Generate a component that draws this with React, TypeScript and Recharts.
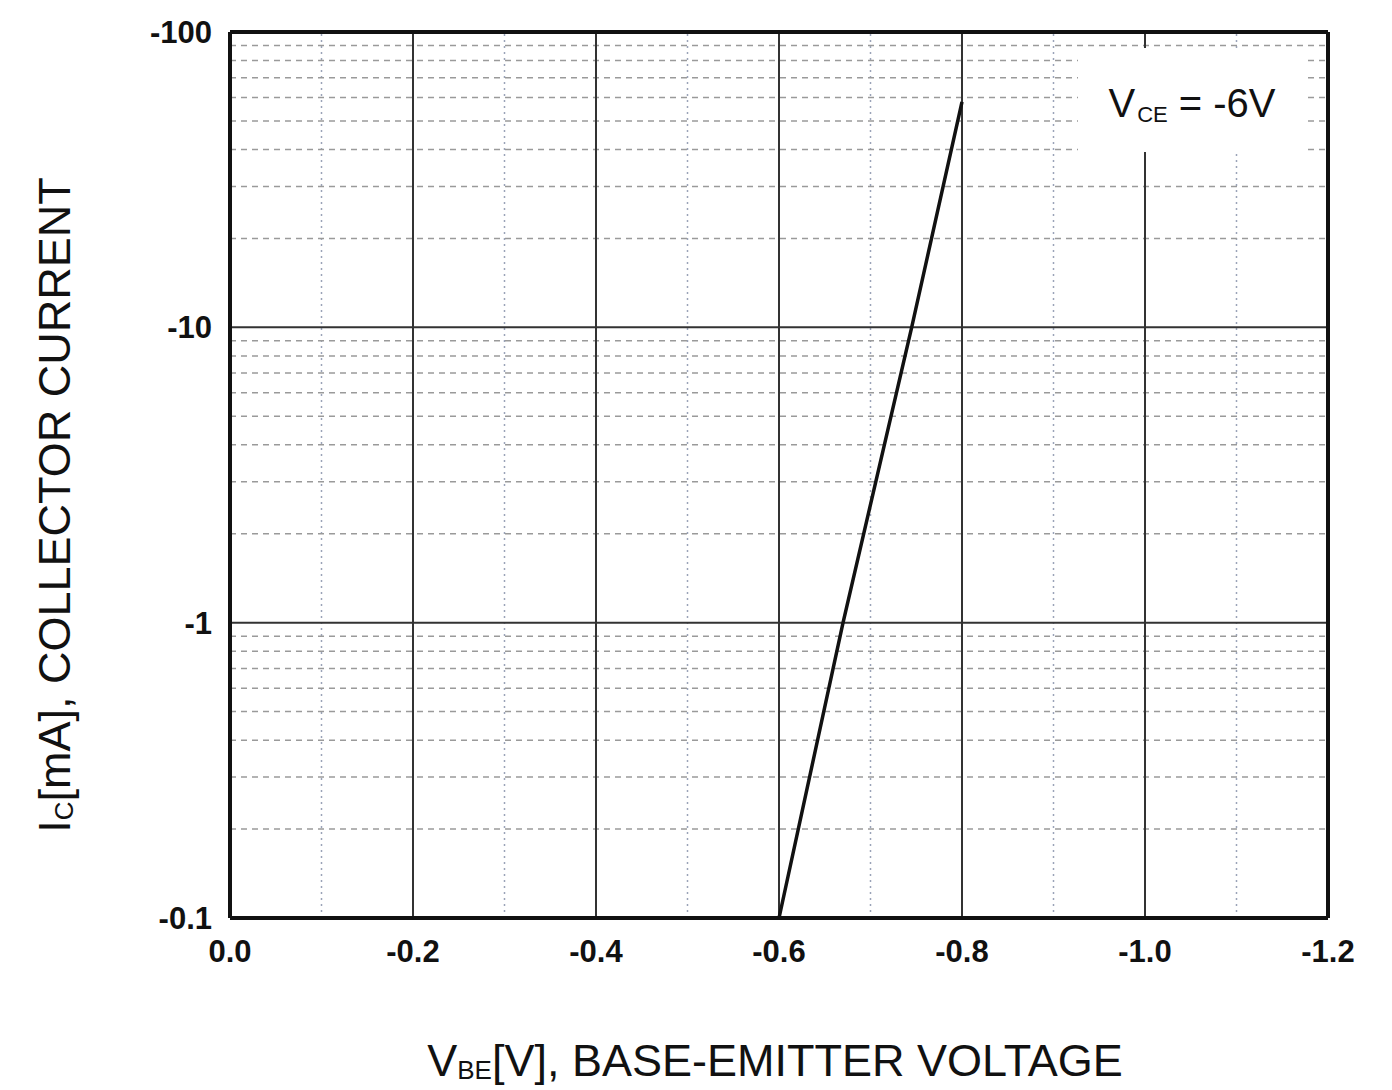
import { LineChart, Line, XAxis, YAxis, ReferenceLine } from "recharts";

// V_BE [V] vs I_C [mA]
const vbe = [-0.6, -0.67, -0.745, -0.8];
const ic = [-0.1, -1, -10, -58];

const xTicks = [0, -0.2, -0.4, -0.6, -0.8, -1.0, -1.2];
const xMinor = [-0.1, -0.3, -0.5, -0.7, -0.9, -1.1];
const yTicks = [0.1, 1, 10, 100];
const yMinor = [0.2, 0.3, 0.4, 0.5, 0.6, 0.7, 0.8, 0.9, 2, 3, 4, 5, 6, 7, 8, 9, 20, 30, 40, 50, 60, 70, 80, 90];

const data = vbe.map((v, i) => ({ vbe: v, ic: ic[i] }));

const font = "'Liberation Sans', Arial, sans-serif";
const tickStyle = { fontFamily: font, fontSize: 31, fontWeight: 700, fill: "#111" };

const App = () => {
  return (
    <div style={{ position: "absolute", left: 0, top: 0, background: "#fff" }}>
      <LineChart width={1392} height={1090} data={data} margin={{ top: 32, right: 64, bottom: 0, left: 0 }}>
        <XAxis
          dataKey="vbe"
          type="number"
          domain={[-1.2, 0]}
          reversed
          allowDataOverflow
          ticks={xTicks}
          interval={0}
          tickFormatter={(v: number) => v.toFixed(1)}
          tick={tickStyle}
          tickLine={false}
          tickSize={0}
          tickMargin={22}
          height={172}
          axisLine={{ stroke: "#111", strokeWidth: 4 }}
          label={{
            content: () => (
              <text x={775} y={1076} textAnchor="middle" fontFamily={font} fontSize={45} fill="#111">
                <tspan>V</tspan>
                <tspan fontSize={26} dy={3}>BE</tspan>
                <tspan dy={-3}>[V], BASE-EMITTER VOLTAGE</tspan>
              </text>
            ),
          }}
        />
        <YAxis
          dataKey={(d: { ic: number }) => -d.ic}
          type="number"
          scale="log"
          domain={[0.1, 100]}
          allowDataOverflow
          ticks={yTicks}
          interval={0}
          tickFormatter={(v: number) => "-" + v}
          tick={tickStyle}
          tickLine={false}
          tickSize={0}
          tickMargin={18}
          width={230}
          axisLine={{ stroke: "#111", strokeWidth: 4 }}
          label={{
            content: () => (
              <text
                x={70}
                y={505}
                transform="rotate(-90 70 505)"
                textAnchor="middle"
                fontFamily={font}
                fontSize={45}
                fill="#111"
              >
                <tspan>I</tspan>
                <tspan fontSize={26} dy={3}>C</tspan>
                <tspan dy={-3}>[mA], COLLECTOR CURRENT</tspan>
              </text>
            ),
          }}
        />
        {xMinor.map((v) => (
          <ReferenceLine key={"xm" + v} x={v} stroke="#9aa3b8" strokeWidth={1.5} strokeDasharray="2 4" />
        ))}
        {yMinor.map((v) => (
          <ReferenceLine key={"ym" + v} y={v} stroke="#9a9a9a" strokeWidth={1.5} strokeDasharray="6 5" />
        ))}
        {xTicks.slice(1, -1).map((v) => (
          <ReferenceLine key={"xM" + v} x={v} stroke="#333" strokeWidth={2} />
        ))}
        {yTicks.slice(1, -1).map((v) => (
          <ReferenceLine key={"yM" + v} y={v} stroke="#333" strokeWidth={2} />
        ))}
        <ReferenceLine
          y={100}
          stroke="none"
          label={{
            content: () => (
              <g>
                <rect x={1078} y={48} width={228} height={104} fill="#fff" />
                <text x={1192} y={117} textAnchor="middle" fontFamily={font} fontSize={40} fill="#111">
                  <tspan>V</tspan>
                  <tspan fontSize={22} dx={2} dy={5}>CE</tspan>
                  <tspan dy={-5}> = -6V</tspan>
                </text>
              </g>
            ),
          }}
        />
        <ReferenceLine y={100} stroke="#111" strokeWidth={4} />
        <ReferenceLine x={-1.2} stroke="#111" strokeWidth={4} />
        <Line
          dataKey={(d: { ic: number }) => -d.ic}
          type="linear"
          stroke="#111"
          strokeWidth={3.5}
          dot={false}
          isAnimationActive={false}
        />
      </LineChart>
    </div>
  );
};

export default App;
